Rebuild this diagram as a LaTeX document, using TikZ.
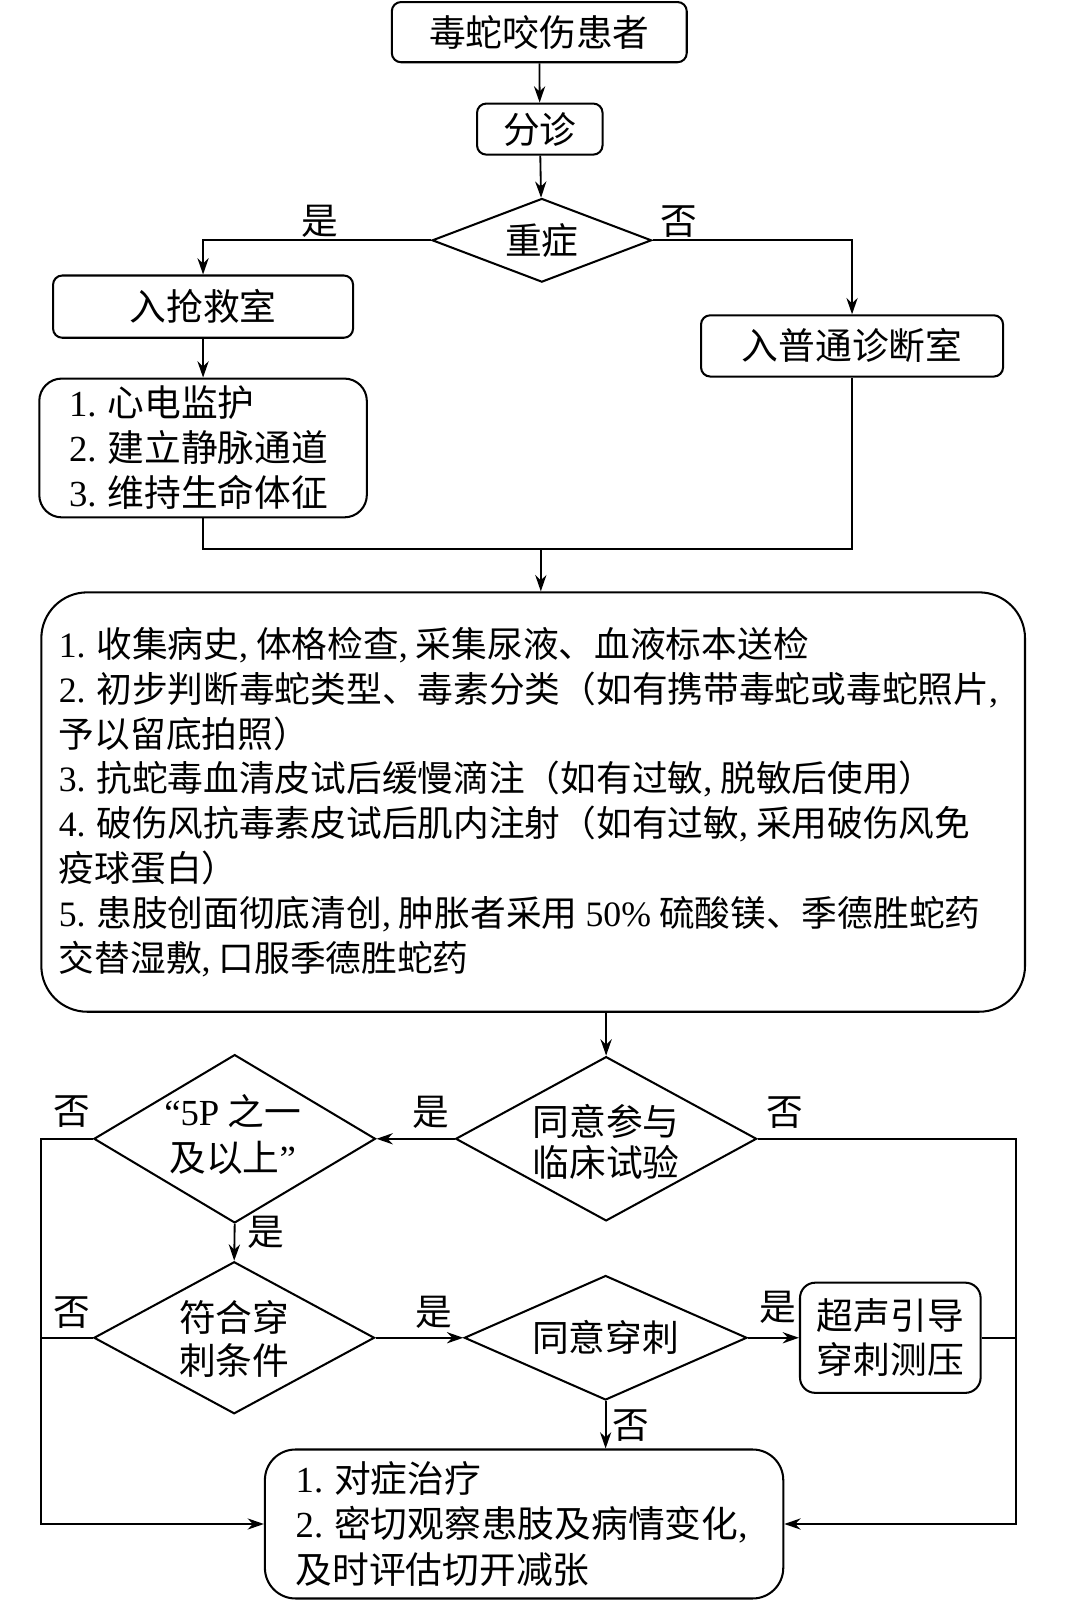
\documentclass[tikz,border=0pt]{standalone}
\usepackage{fontspec}
\setmainfont{Noto Sans CJK SC}
\newfontfamily\latfont{Liberation Serif}
\newcommand{\latn}[1]{{\latfont #1}}
\usetikzlibrary{shapes.geometric,arrows.meta,calc}
\begin{document}
\begin{tikzpicture}[x=1pt,y=-1pt,
  every node/.style={font=\fontsize{36}{44}\selectfont},
  box/.style={draw,line width=2pt,rounded corners=9pt,inner sep=0pt,align=center},
  dia/.style={draw,diamond,line width=2pt,inner sep=0pt},
  txt/.style={inner sep=0pt,align=left},
  lbl/.style={inner sep=0pt},
  conn/.style={line width=1.8pt},
  arr/.style={conn,-{Stealth[length=16pt,width=11pt]}},
]
\fill[white] (0,0) rectangle (1043,1568);
\useasboundingbox (0,0) rectangle (1043,1568);

% top part
\node[box, minimum width=289pt, minimum height=59pt] (b1) at (528.5,31.5) {毒蛇咬伤患者};
\node[box, minimum width=123pt, minimum height=50pt] (b2) at (529,126.5) {分诊};
\node[dia, minimum width=215pt, minimum height=82pt] (d1) at (531,235.5) {};
\node[lbl] (d1t) at (d1) {重症};
\node[box, minimum width=294pt, minimum height=61pt] (b3) at (199,300.5) {入抢救室};
\node[box, minimum width=296pt, minimum height=60pt] (b4) at (835,339) {入普通诊断室};
\node[box, rounded corners=22pt, minimum width=321pt, minimum height=136pt] (b5) at (199,439) {};
\node[txt, anchor=west] (b5t) at ([xshift=30pt]b5.west) {\latn{1.} 心电监护\\\latn{2.} 建立静脉通道\\\latn{3.} 维持生命体征};

\node[lbl] (l1) at (313,217) {是};
\node[lbl] (l2) at (665,217) {否};

% big box
\node[box, rounded corners=45pt, minimum width=964pt, minimum height=411pt] (b6) at (522.5,786) {};
\node[txt, anchor=west, font=\fontsize{35}{44}\selectfont] (b6t) at ([xshift=18pt]b6.west) {\latn{1.} 收集病史\latn{,} 体格检查\latn{,} 采集尿液、血液标本送检\\
\latn{2.} 初步判断毒蛇类型、毒素分类（如有携带毒蛇或毒蛇照片\latn{,}\\
予以留底拍照）\\
\latn{3.} 抗蛇毒血清皮试后缓慢滴注（如有过敏\latn{,} 脱敏后使用）\\
\latn{4.} 破伤风抗毒素皮试后肌内注射（如有过敏\latn{,} 采用破伤风免\\
疫球蛋白）\\
\latn{5.} 患肢创面彻底清创\latn{,} 肿胀者采用 \latn{50\%} 硫酸镁、季德胜蛇药\\
交替湿敷\latn{,} 口服季德胜蛇药};

% lower part
\node[dia, minimum width=295pt, minimum height=161pt] (d2) at (594,1116) {};
\node[lbl, align=center, font=\fontsize{36}{41}\selectfont] (d2t) at (594,1119) {同意参与\\临床试验};
\node[dia, minimum width=276pt, minimum height=165pt] (d3) at (230,1116) {};
\node[lbl, align=center, font=\fontsize{36}{45}\selectfont] (d3t) at (228,1112) {\latn{“5P} 之一\\及以上\latn{”}};
\node[dia, minimum width=275pt, minimum height=149pt] (d4) at (229.5,1311) {};
\node[lbl, align=center, font=\fontsize{36}{42}\selectfont] (d4t) at (229.5,1312) {符合穿\\刺条件};
\node[dia, minimum width=277pt, minimum height=122pt] (d5) at (593.5,1311) {};
\node[lbl] (d5t) at (d5) {同意穿刺};
\node[box, rounded corners=15pt, minimum width=177pt, minimum height=108pt, font=\fontsize{36}{43}\selectfont] (b8) at (872.5,1311) {超声引导\\穿刺测压};
\node[box, rounded corners=30pt, minimum width=508pt, minimum height=146pt] (b7) at (513.6,1493.5) {};
\node[txt, anchor=west, font=\fontsize{36}{45}\selectfont] (b7t) at ([xshift=31pt]b7.west) {\latn{1.} 对症治疗\\\latn{2.} 密切观察患肢及病情变化\latn{,}\\及时评估切开减张};

\coordinate (J) at (530,538.3);
\coordinate (L) at (40,1493.5);
\coordinate (R) at (996,1493.5);

% connectors
\draw[arr] (b1) -- (b2);
\draw[arr] (b2) -- (d1);
\draw[arr] (d1.west) -| (b3.north);
\draw[arr] (d1.east) -| (b4.north);
\draw[arr] (b3) -- (b5);
\draw[conn] (b5.south) |- (J) -| (b4.south);
\draw[arr] (J) -- (J |- b6.north);
\draw[arr] (b6.south -| d2.north) -- (d2.north);
\draw[arr] (d2.west) -- (d3.east);
\draw[arr] (d2.east) -| (R) -- (b7.east);
\draw[arr] (d3.west) -| (L) -- (b7.west);
\draw[arr] (d3.south) -- (d4.north);
\draw[conn] (d4.west) -- (d4.west -| L);
\draw[arr] (d4.east) -- (d5.west);
\draw[arr] (d5.east) -- (b8.west);
\draw[conn] (b8.east) -- (b8.east -| R);
\draw[arr] (d5.south) -- (d5.south |- b7.north);

% labels
\node[lbl] (l3) at (70.5,1089) {否};
\node[lbl] (l4) at (422,1090) {是};
\node[lbl] (l5) at (769,1090) {否};
\node[lbl] (l6) at (261,1208) {是};
\node[lbl] (l7) at (70,1286) {否};
\node[lbl] (l8) at (425,1286) {是};
\node[lbl] (l9) at (762,1281) {是};
\node[lbl] (l10) at (618.5,1397) {否};
\end{tikzpicture}
\end{document}
